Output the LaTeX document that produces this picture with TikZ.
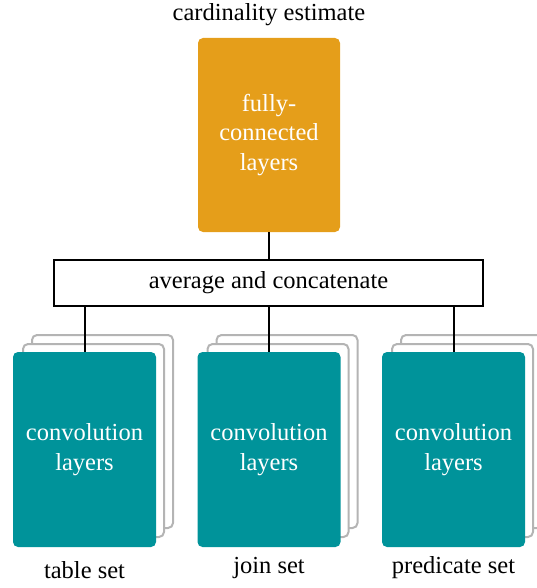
\documentclass[tikz,border=0pt]{standalone}
\usepackage{fontspec}
\setmainfont{Liberation Serif}
\definecolor{fcOrange}{HTML}{E59E1A}
\definecolor{convTeal}{HTML}{00939A}
\definecolor{frameGray}{HTML}{B4B4B4}
\begin{document}
\begin{tikzpicture}[x=1pt,y=-1pt,
  every node/.style={font=\fontsize{24.5}{29.5}\selectfont, inner sep=0pt},
  fcbox/.style={fill=fcOrange, rounded corners=5pt, minimum width=142pt,
    minimum height=194pt, text=white, align=center},
  convbox/.style={fill=convTeal, rounded corners=5pt, minimum width=143pt,
    minimum height=195pt, text=white, align=center},
  stackframe/.style={draw=frameGray, line width=2pt, fill=white,
    rounded corners=5pt, minimum width=141pt, minimum height=193pt},
  mergebox/.style={draw=black, line width=2pt, fill=white,
    minimum width=429pt, minimum height=46pt},
  link/.style={draw=black, line width=2pt},
  caption/.style={text=black}]
\useasboundingbox (0,0) rectangle (536,588);

% stacked frames behind each convolution block
\foreach \cx/\nm in {84.5/a, 269/b, 453.5/c}{
  \node[stackframe] (\nm back2) at (\cx+18, 449.5-18) {};
  \node[stackframe] (\nm back1) at (\cx+9, 449.5-9) {};
}

\node (title) at (269,15) {cardinality estimate};
\node[fcbox] (fc) at (269,135) {fully-\\connected\\layers};
\node[mergebox] (avg) at (268.5,283) {average and concatenate};

\node[convbox] (convA) at (84.5,449.5) {convolution\\layers};
\node[convbox] (convB) at (269,449.5) {convolution\\layers};
\node[convbox] (convC) at (453.5,449.5) {convolution\\layers};

\node[caption] (capA) at (84.5,570) {table set};
\node[caption] (capB) at (269,568) {join set};
\node[caption] (capC) at (453.5,568) {predicate set};

\draw[link] (fc.south) -- (fc.south |- avg.north);
\draw[link] (avg.south -| convA.north) -- (convA.north);
\draw[link] (avg.south -| convB.north) -- (convB.north);
\draw[link] (avg.south -| convC.north) -- (convC.north);
\end{tikzpicture}
\end{document}
